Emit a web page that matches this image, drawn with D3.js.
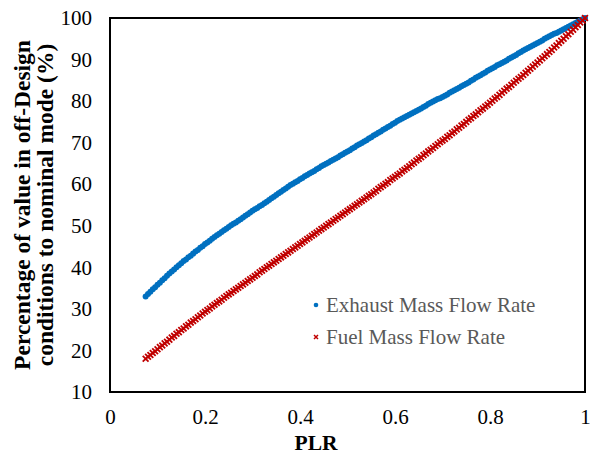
<!DOCTYPE html>
<html>
<head>
<meta charset="utf-8">
<script src="https://cdn.jsdelivr.net/npm/d3@7"></script>
<style>
  body { margin: 0; background: #fff; }
  svg { font-family: "Liberation Serif", "Times New Roman", serif; }
</style>
</head>
<body>
<div id="chart"></div>
<script>

// PLR values (x) shared by both series
var plr = [
  0.075, 0.080, 0.085, 0.090, 0.095, 0.100, 0.105, 0.110, 0.115, 0.120,
  0.125, 0.130, 0.135, 0.140, 0.145, 0.150, 0.155, 0.160, 0.165, 0.170,
  0.175, 0.180, 0.185, 0.190, 0.195, 0.200, 0.205, 0.210, 0.215, 0.220,
  0.225, 0.230, 0.235, 0.240, 0.245, 0.250, 0.255, 0.260, 0.265, 0.270,
  0.275, 0.280, 0.285, 0.290, 0.295, 0.300, 0.305, 0.310, 0.315, 0.320,
  0.325, 0.330, 0.335, 0.340, 0.345, 0.350, 0.355, 0.360, 0.365, 0.370,
  0.375, 0.380, 0.385, 0.390, 0.395, 0.400, 0.405, 0.410, 0.415, 0.420,
  0.425, 0.430, 0.435, 0.440, 0.445, 0.450, 0.455, 0.460, 0.465, 0.470,
  0.475, 0.480, 0.485, 0.490, 0.495, 0.500, 0.505, 0.510, 0.515, 0.520,
  0.525, 0.530, 0.535, 0.540, 0.545, 0.550, 0.555, 0.560, 0.565, 0.570,
  0.575, 0.580, 0.585, 0.590, 0.595, 0.600, 0.605, 0.610, 0.615, 0.620,
  0.625, 0.630, 0.635, 0.640, 0.645, 0.650, 0.655, 0.660, 0.665, 0.670,
  0.675, 0.680, 0.685, 0.690, 0.695, 0.700, 0.705, 0.710, 0.715, 0.720,
  0.725, 0.730, 0.735, 0.740, 0.745, 0.750, 0.755, 0.760, 0.765, 0.770,
  0.775, 0.780, 0.785, 0.790, 0.795, 0.800, 0.805, 0.810, 0.815, 0.820,
  0.825, 0.830, 0.835, 0.840, 0.845, 0.850, 0.855, 0.860, 0.865, 0.870,
  0.875, 0.880, 0.885, 0.890, 0.895, 0.900, 0.905, 0.910, 0.915, 0.920,
  0.925, 0.930, 0.935, 0.940, 0.945, 0.950, 0.955, 0.960, 0.965, 0.970,
  0.975, 0.980, 0.985, 0.990, 0.995, 1.000
];

// Exhaust mass flow rate (% of nominal)
var exhaust = [
  33.0, 33.6, 34.1, 34.7, 35.2, 35.8, 36.3, 36.9, 37.4, 38.0,
  38.5, 39.0, 39.5, 40.0, 40.5, 41.0, 41.5, 41.9, 42.4, 42.8,
  43.3, 43.8, 44.2, 44.7, 45.1, 45.6, 46.0, 46.4, 46.9, 47.3,
  47.7, 48.1, 48.5, 48.9, 49.3, 49.7, 50.1, 50.5, 50.8, 51.2,
  51.6, 52.0, 52.4, 52.8, 53.2, 53.6, 54.0, 54.3, 54.7, 55.0,
  55.4, 55.8, 56.2, 56.6, 57.0, 57.4, 57.8, 58.2, 58.6, 59.0,
  59.4, 59.8, 60.1, 60.5, 60.8, 61.2, 61.5, 61.9, 62.2, 62.6,
  62.9, 63.2, 63.6, 63.9, 64.3, 64.6, 64.9, 65.2, 65.6, 65.9,
  66.2, 66.5, 66.9, 67.2, 67.6, 67.9, 68.2, 68.6, 68.9, 69.3,
  69.6, 69.9, 70.3, 70.6, 71.0, 71.3, 71.7, 72.0, 72.4, 72.7,
  73.1, 73.4, 73.8, 74.1, 74.5, 74.8, 75.2, 75.5, 75.8, 76.1,
  76.4, 76.7, 77.0, 77.3, 77.6, 77.9, 78.2, 78.6, 78.9, 79.3,
  79.6, 79.9, 80.2, 80.5, 80.7, 81.0, 81.3, 81.6, 82.0, 82.3,
  82.6, 82.9, 83.2, 83.6, 83.9, 84.2, 84.5, 84.9, 85.2, 85.6,
  85.9, 86.2, 86.6, 86.9, 87.3, 87.6, 87.9, 88.2, 88.6, 88.9,
  89.2, 89.5, 89.8, 90.2, 90.5, 90.8, 91.1, 91.5, 91.8, 92.2,
  92.5, 92.8, 93.1, 93.4, 93.7, 94.0, 94.3, 94.6, 95.0, 95.3,
  95.6, 95.9, 96.2, 96.4, 96.7, 97.0, 97.3, 97.6, 97.9, 98.2,
  98.5, 98.8, 99.1, 99.4, 99.7, 100.0
];

// Fuel mass flow rate (% of nominal)
var fuel = [
  18.0, 18.5, 18.9, 19.4, 19.8, 20.3, 20.8, 21.2, 21.7, 22.1,
  22.6, 23.1, 23.5, 24.0, 24.4, 24.9, 25.3, 25.8, 26.2, 26.7,
  27.1, 27.5, 28.0, 28.4, 28.9, 29.3, 29.7, 30.1, 30.6, 31.0,
  31.4, 31.8, 32.2, 32.7, 33.1, 33.5, 33.9, 34.3, 34.7, 35.1,
  35.5, 35.9, 36.3, 36.7, 37.1, 37.5, 37.9, 38.3, 38.8, 39.2,
  39.6, 40.0, 40.4, 40.8, 41.2, 41.6, 42.0, 42.4, 42.8, 43.2,
  43.6, 44.0, 44.4, 44.8, 45.2, 45.6, 46.0, 46.4, 46.8, 47.2,
  47.6, 48.0, 48.4, 48.8, 49.2, 49.6, 50.0, 50.4, 50.8, 51.2,
  51.6, 52.0, 52.4, 52.8, 53.2, 53.6, 54.0, 54.4, 54.8, 55.2,
  55.6, 56.0, 56.4, 56.8, 57.2, 57.6, 58.0, 58.4, 58.9, 59.3,
  59.7, 60.1, 60.5, 61.0, 61.4, 61.8, 62.2, 62.6, 63.1, 63.5,
  63.9, 64.3, 64.8, 65.2, 65.7, 66.1, 66.5, 67.0, 67.4, 67.9,
  68.3, 68.7, 69.2, 69.6, 70.1, 70.5, 70.9, 71.4, 71.8, 72.3,
  72.7, 73.2, 73.6, 74.1, 74.5, 75.0, 75.5, 75.9, 76.4, 76.8,
  77.3, 77.8, 78.2, 78.7, 79.1, 79.6, 80.1, 80.6, 81.0, 81.5,
  82.0, 82.5, 83.0, 83.4, 83.9, 84.4, 84.9, 85.4, 85.8, 86.3,
  86.8, 87.3, 87.8, 88.3, 88.8, 89.3, 89.8, 90.3, 90.8, 91.3,
  91.8, 92.3, 92.9, 93.4, 94.0, 94.5, 95.0, 95.6, 96.1, 96.7,
  97.2, 97.8, 98.3, 98.9, 99.4, 100.0
];

var xTicks = [0, 0.2, 0.4, 0.6, 0.8, 1];
var yTicks = [10, 20, 30, 40, 50, 60, 70, 80, 90, 100];
var seriesNames = ["Exhaust Mass Flow Rate", "Fuel Mass Flow Rate"];

var width = 595, height = 457;
var margin = {top: 18, right: 10, bottom: 65, left: 110};
var plotW = width - margin.left - margin.right,
    plotH = height - margin.top - margin.bottom;

var blue = "#0070c0", red = "#c00000";
var serif = "'Liberation Serif', 'Times New Roman', serif";

var svg = d3.select("#chart").append("svg")
    .attr("width", width)
    .attr("height", height);

var x = d3.scaleLinear().domain([0, 1]).range([margin.left, margin.left + plotW]);
var y = d3.scaleLinear().domain([10, 100]).range([margin.top + plotH, margin.top]);

// Axes (labels only, no tick marks)
var xAxis = svg.append("g")
    .attr("transform", "translate(0," + (margin.top + plotH) + ")")
    .call(d3.axisBottom(x).tickValues(xTicks).tickSize(0).tickPadding(17)
        .tickFormat(function(d) { return d3.format("")(d); }));

var yAxis = svg.append("g")
    .attr("transform", "translate(" + margin.left + ",0)")
    .call(d3.axisLeft(y).tickValues(yTicks).tickSize(0).tickPadding(18));

[xAxis, yAxis].forEach(function(a) {
    a.select(".domain").remove();
    a.selectAll("text")
        .style("font-size", "21px")
        .style("font-family", serif)
        .attr("fill", "#000");
});

// Plot frame
svg.append("rect")
    .attr("x", margin.left)
    .attr("y", margin.top)
    .attr("width", plotW)
    .attr("height", plotH)
    .attr("fill", "none")
    .attr("stroke", "#000")
    .attr("stroke-width", 2);

var data = plr.map(function(p, i) { return {x: p, ex: exhaust[i], fu: fuel[i]}; });

// Exhaust series - round markers
svg.append("g").selectAll("circle")
    .data(data)
    .enter().append("circle")
    .attr("cx", function(d) { return x(d.x); })
    .attr("cy", function(d) { return y(d.ex); })
    .attr("r", 3)
    .attr("fill", blue);

// Fuel series - x markers
function cross(cx, cy, s) {
    return "M" + (cx - s) + "," + (cy - s) + "L" + (cx + s) + "," + (cy + s) +
           "M" + (cx - s) + "," + (cy + s) + "L" + (cx + s) + "," + (cy - s);
}

svg.append("g").selectAll("path")
    .data(data)
    .enter().append("path")
    .attr("d", function(d) { return cross(x(d.x), y(d.fu), 2.9); })
    .attr("stroke", red)
    .attr("stroke-width", 1.8)
    .attr("fill", "none");

// Legend
var legend = svg.append("g").attr("transform", "translate(316,305)");

legend.append("circle")
    .attr("cx", 0).attr("cy", 0).attr("r", 2.3)
    .attr("fill", blue);

legend.append("path")
    .attr("d", cross(0, 32, 2))
    .attr("stroke", red)
    .attr("stroke-width", 1.5);

legend.selectAll("text")
    .data(seriesNames)
    .enter().append("text")
    .attr("x", 10)
    .attr("y", function(d, i) { return 7 + i * 32; })
    .style("font-size", "21px")
    .style("font-family", serif)
    .attr("fill", "#595959")
    .text(function(d) { return d; });

// Axis titles
svg.append("text")
    .attr("x", 316)
    .attr("y", 450)
    .attr("text-anchor", "middle")
    .style("font-size", "21.5px")
    .style("font-family", serif)
    .style("font-weight", "bold")
    .text("PLR");

var yTitle = svg.append("text")
    .attr("transform", "translate(30," + (margin.top + plotH / 2) + ") rotate(-90)")
    .attr("text-anchor", "middle")
    .style("font-size", "23.5px")
    .style("font-family", serif)
    .style("font-weight", "bold");

yTitle.append("tspan").attr("x", 0).attr("dy", 0).text("Percentage of value in off-Design");
yTitle.append("tspan").attr("x", 0).attr("dy", 23).text("conditions to nominal mode (%)");

</script>
</body>
</html>
